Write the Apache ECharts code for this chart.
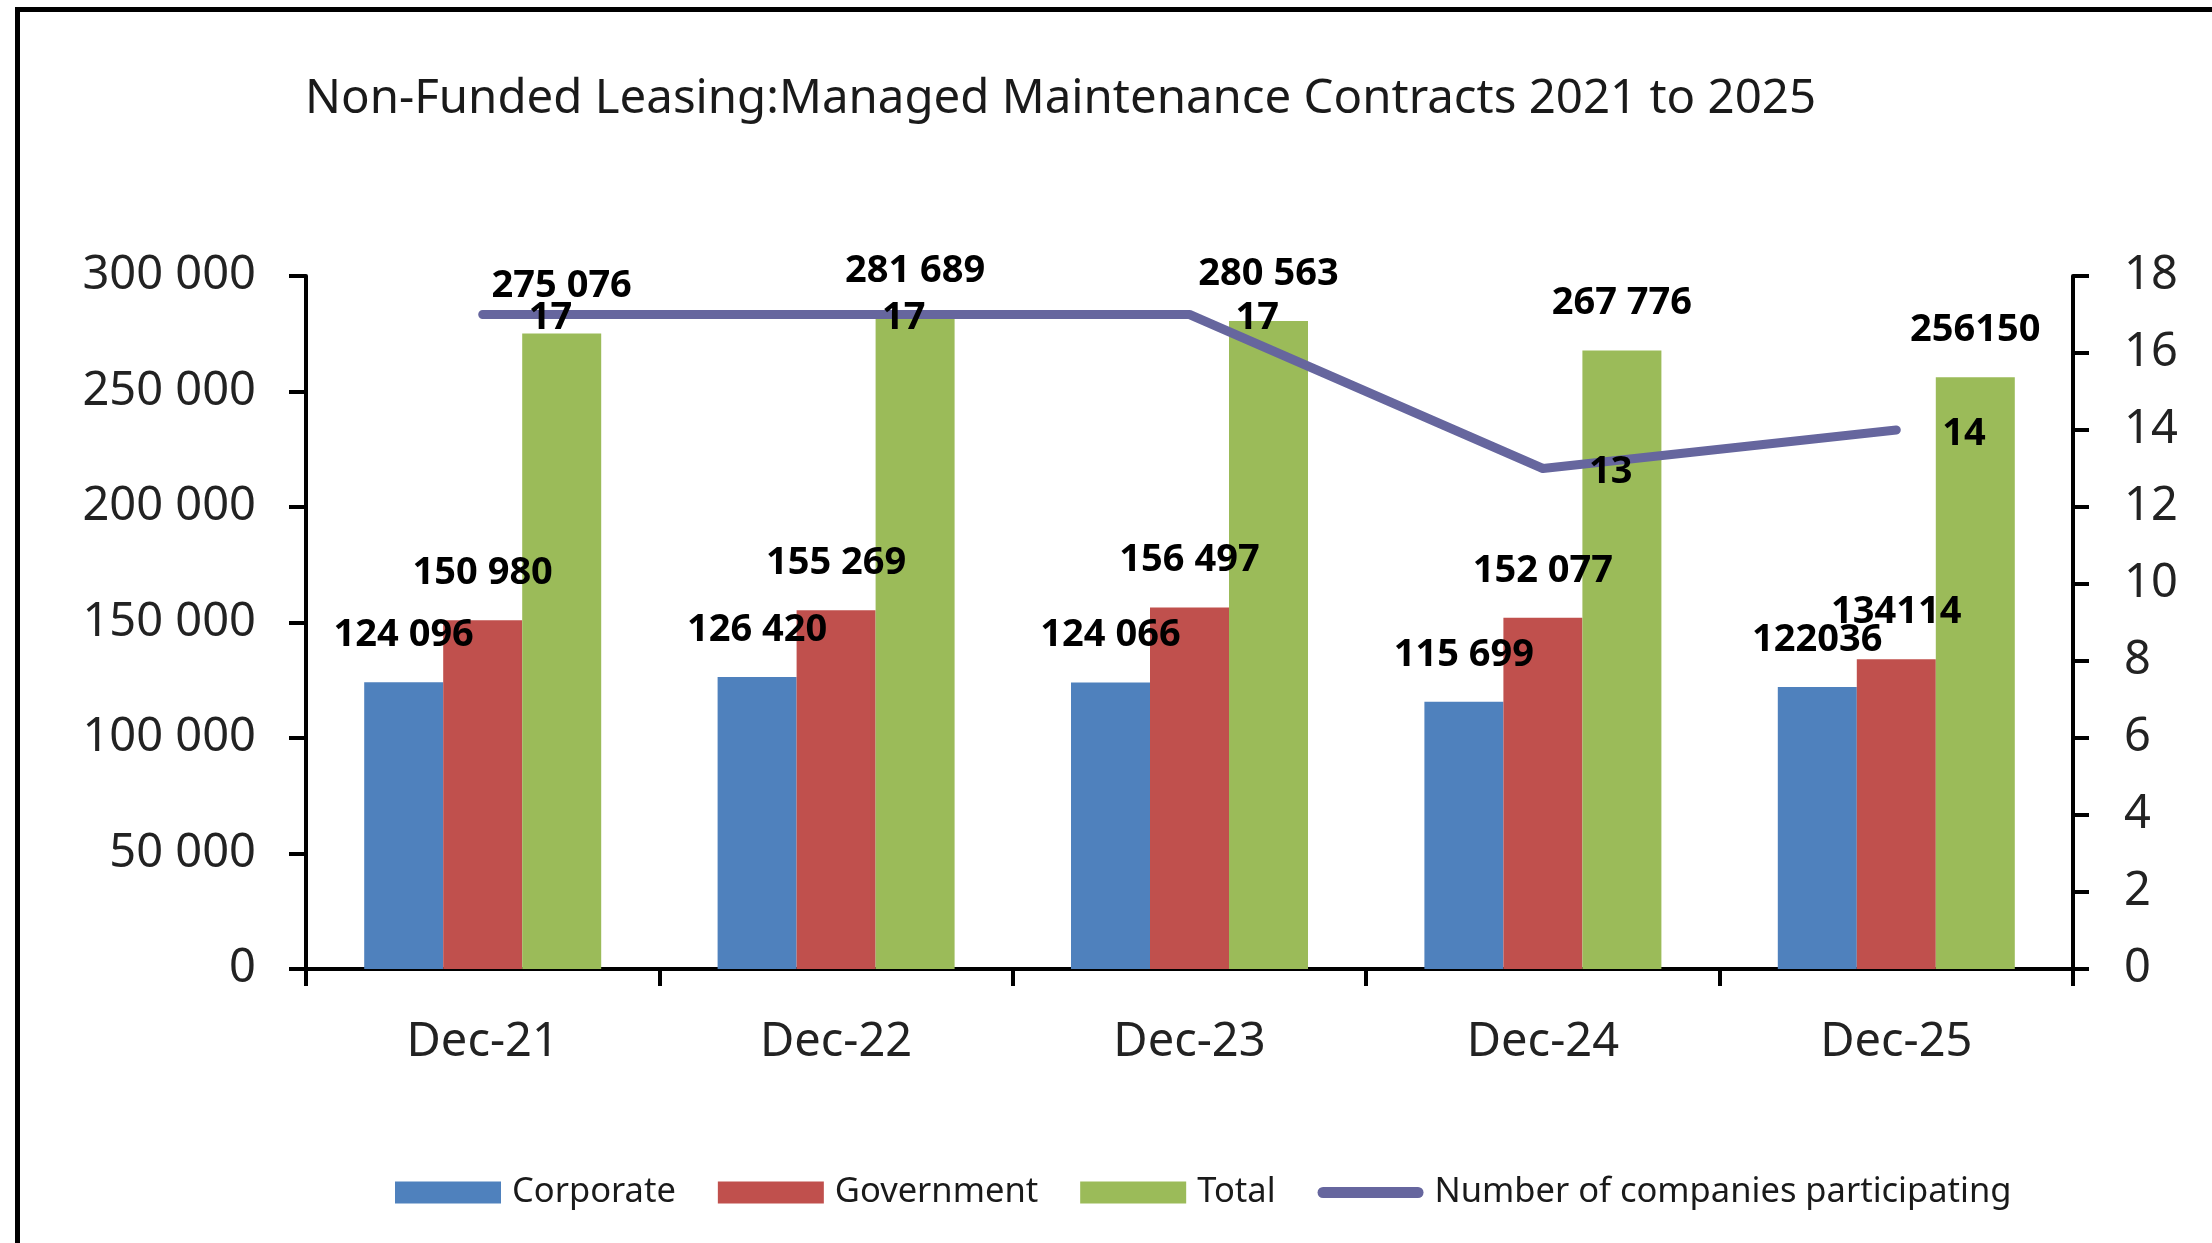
<!DOCTYPE html>
<html>
<head>
<meta charset="utf-8">
<script src="https://cdn.jsdelivr.net/npm/echarts@6/dist/echarts.min.js"></script>
<style>
html,body{margin:0;padding:0;background:#fff;}
#chart{width:2212px;height:1243px;}
</style>
</head>
<body>
<div id="chart"></div>
<script>
const categories = ['Dec-21', 'Dec-22', 'Dec-23', 'Dec-24', 'Dec-25'];
const corporate = [124096, 126420, 124066, 115699, 122036];
const government = [150980, 155269, 156497, 152077, 134114];
const total = [275076, 281689, 280563, 267776, 256150];
const companies = [17, 17, 17, 13, 14];
const titleText = 'Non-Funded Leasing:Managed Maintenance Contracts 2021 to 2025';

const FONT = '"Noto Sans", "Open Sans", sans-serif';

function spaced(v) {
  return String(v).replace(/\B(?=(\d{3})+(?!\d))/g, ' ');
}
// Dec-25 labels are shown without thousands separator in the original
function barLabel(p) {
  return p.dataIndex === categories.length - 1 ? String(p.value) : spaced(p.value);
}

const chart = echarts.init(document.getElementById('chart'));
const barLabelStyle = {
  show: true, position: 'top', distance: 28, formatter: barLabel,
  fontFamily: FONT, fontSize: 38, fontWeight: 'bold', color: '#000'
};
const LINE_COLOR = '#66669E';
// rounded thick line legend icon (padded box so it keeps a thin height)
const lineIcon = 'path://M0,0 M0,22 M106,0 M106,22 M5.5,5.5 L100.5,5.5 A5.5,5.5 0 0 1 100.5,16.5 L5.5,16.5 A5.5,5.5 0 0 1 5.5,5.5 Z';

chart.setOption({
  animation: false,
  backgroundColor: '#fff',
  title: {
    text: titleText, left: 300, top: 71,
    textStyle: { fontFamily: FONT, fontSize: 47.4, fontWeight: 'normal', color: '#1a1a1a' }
  },
  graphic: [
    { type: 'polyline', shape: { points: [[17.5, 1243], [17.5, 9.5], [2212, 9.5]] },
      style: { stroke: '#000', lineWidth: 5, fill: null } }
  ],
  legend: {
    left: 390, top: 1170,
    itemWidth: 106, itemHeight: 22, itemGap: 42,
    textStyle: { fontFamily: FONT, fontSize: 34.5, color: '#1a1a1a', padding: [0, 0, 0, 6] },
    data: [
      { name: 'Corporate', icon: 'rect' },
      { name: 'Government', icon: 'rect' },
      { name: 'Total', icon: 'rect' },
      { name: 'Number of companies participating', icon: lineIcon, itemStyle: { color: LINE_COLOR } }
    ]
  },
  grid: { left: 306, right: 139, top: 276, bottom: 274, containLabel: false },
  xAxis: {
    type: 'category', data: categories,
    axisLine: { lineStyle: { color: '#000', width: 4 } },
    axisTick: { show: true, length: 17, lineStyle: { color: '#000', width: 4 } },
    axisLabel: { fontFamily: FONT, fontSize: 47, color: '#222', margin: 50 }
  },
  yAxis: [
    {
      type: 'value', min: 0, max: 300000, interval: 50000,
      axisLine: { show: true, lineStyle: { color: '#000', width: 4 } },
      axisTick: { show: true, length: 17, lineStyle: { color: '#000', width: 4 } },
      splitLine: { show: false },
      axisLabel: { fontFamily: FONT, fontSize: 47, color: '#222', margin: 50, formatter: v => spaced(v) }
    },
    {
      type: 'value', min: 0, max: 18, interval: 2, position: 'right',
      axisLine: { show: true, lineStyle: { color: '#000', width: 4 } },
      axisTick: { show: true, length: 16, lineStyle: { color: '#000', width: 4 } },
      splitLine: { show: false },
      axisLabel: { fontFamily: FONT, fontSize: 47, color: '#222', margin: 51 }
    }
  ],
  series: [
    { name: 'Corporate', type: 'bar', data: corporate, barWidth: 79, barGap: '0%',
      itemStyle: { color: '#4F81BD' }, label: barLabelStyle },
    { name: 'Government', type: 'bar', data: government, barWidth: 79, barGap: '0%',
      itemStyle: { color: '#C0504D' }, label: barLabelStyle },
    { name: 'Total', type: 'bar', data: total, barWidth: 79, barGap: '0%',
      itemStyle: { color: '#9BBB59' }, label: barLabelStyle },
    { name: 'Number of companies participating', type: 'line', yAxisIndex: 1, data: companies,
      symbol: 'circle', symbolSize: 0, showSymbol: true, z: 5,
      lineStyle: { color: LINE_COLOR, width: 9, cap: 'round', join: 'round' },
      itemStyle: { color: LINE_COLOR },
      label: { show: true, position: 'right', distance: 46, offset: [0, 4],
        fontFamily: FONT, fontSize: 38, fontWeight: 'bold', color: '#000' } }
  ]
});
</script>
</body>
</html>
